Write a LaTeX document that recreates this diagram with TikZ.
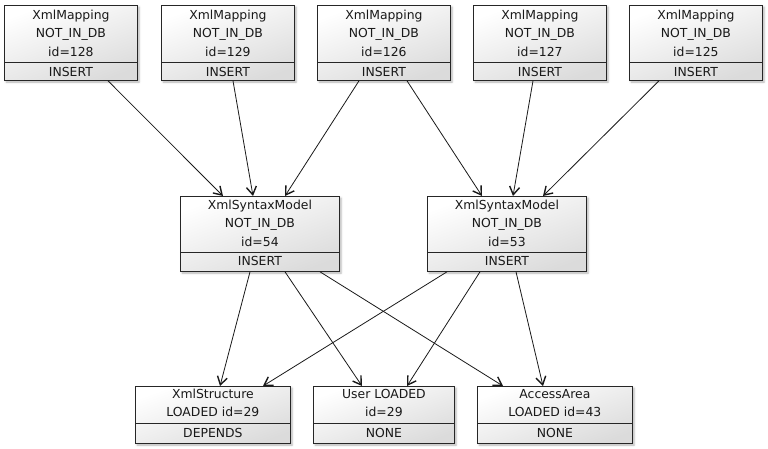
\documentclass[tikz,border=0pt]{standalone}
\usepackage{fontspec}
\setmainfont{DejaVu Sans}
\usetikzlibrary{arrows.meta,shadows.blur}
\tikzset{
  umlbox/.style={draw=black!85, line width=0.8pt, rectangle, inner sep=0pt, anchor=north west,
    top color=white, bottom color=black!14, shading angle=20,
    blur shadow={shadow xshift=1.6pt, shadow yshift=-1.6pt, shadow blur steps=5, shadow opacity=30}},
  divider/.style={draw=black!85, line width=0.8pt},
  lbl/.style={font=\fontsize{12.4}{18.5}\selectfont, align=center, inner sep=0pt, text=black!90},
  conn/.style={draw=black!90, line width=0.8pt, -{Straight Barb[length=8pt,width=10pt,line width=1.4pt]}}
}
\begin{document}
\begin{tikzpicture}[x=1pt,y=-1pt]
\useasboundingbox (0,0) rectangle (768,448);
% top row
\foreach \n/\x/\id in {a/4/128, b/161/129, c/317/126, d/473/127, e/629/125}{
  \node[umlbox, minimum width=133pt, minimum height=75pt] (\n) at (\x,5) {};
  \draw[divider] ([yshift=-57pt]\n.north west) -- ([yshift=-57pt]\n.north east);
  \node[lbl] (\n t) at ([yshift=-28pt]\n.north) {XmlMapping\\NOT\_IN\_DB\\id=\id};
  \node[lbl] (\n s) at ([yshift=-66.5pt]\n.north) {INSERT};
}
% middle row
\foreach \n/\x/\id in {m/180/54, k/427/53}{
  \node[umlbox, minimum width=159pt, minimum height=75pt] (\n) at (\x,196) {};
  \draw[divider] ([yshift=-56pt]\n.north west) -- ([yshift=-56pt]\n.north east);
  \node[lbl] (\n t) at ([yshift=-27pt]\n.north) {XmlSyntaxModel\\NOT\_IN\_DB\\id=\id};
  \node[lbl] (\n s) at ([yshift=-65pt]\n.north) {INSERT};
}
% bottom row
\node[umlbox, minimum width=155pt, minimum height=57pt] (xs) at (135,386) {};
\draw[divider] ([yshift=-37pt]xs.north west) -- ([yshift=-37pt]xs.north east);
\node[lbl] (xst) at ([yshift=-17pt]xs.north) {XmlStructure\\LOADED id=29};
\node[lbl] (xss) at ([yshift=-46.5pt]xs.north) {DEPENDS};

\node[umlbox, minimum width=141pt, minimum height=57pt] (us) at (313,386) {};
\draw[divider] ([yshift=-37pt]us.north west) -- ([yshift=-37pt]us.north east);
\node[lbl] (ust) at ([yshift=-17pt]us.north) {User LOADED\\id=29};
\node[lbl] (uss) at ([yshift=-46.5pt]us.north) {NONE};

\node[umlbox, minimum width=155pt, minimum height=57pt] (aa) at (477,386) {};
\draw[divider] ([yshift=-37pt]aa.north west) -- ([yshift=-37pt]aa.north east);
\node[lbl] (aat) at ([yshift=-17pt]aa.north) {AccessArea\\LOADED id=43};
\node[lbl] (aas) at ([yshift=-46.5pt]aa.north) {NONE};

% connectors top -> middle
\draw[conn] ([xshift=104pt]a.south west) -- ([xshift=43pt]m.north west);
\draw[conn] ([xshift=72pt]b.south west) -- ([xshift=73pt]m.north west);
\draw[conn] ([xshift=42pt]c.south west) -- ([xshift=105pt]m.north west);
\draw[conn] ([xshift=90pt]c.south west) -- ([xshift=55pt]k.north west);
\draw[conn] ([xshift=60pt]d.south west) -- ([xshift=86pt]k.north west);
\draw[conn] ([xshift=30pt]e.south west) -- ([xshift=116pt]k.north west);
% connectors middle -> bottom
\draw[conn] ([xshift=70pt]m.south west) -- ([xshift=85pt]xs.north west);
\draw[conn] ([xshift=20pt]k.south west) -- ([xshift=128pt]xs.north west);
\draw[conn] ([xshift=105pt]m.south west) -- ([xshift=49pt]us.north west);
\draw[conn] ([xshift=53pt]k.south west) -- ([xshift=94pt]us.north west);
\draw[conn] ([xshift=140pt]m.south west) -- ([xshift=26pt]aa.north west);
\draw[conn] ([xshift=89pt]k.south west) -- ([xshift=66pt]aa.north west);
\end{tikzpicture}
\end{document}
